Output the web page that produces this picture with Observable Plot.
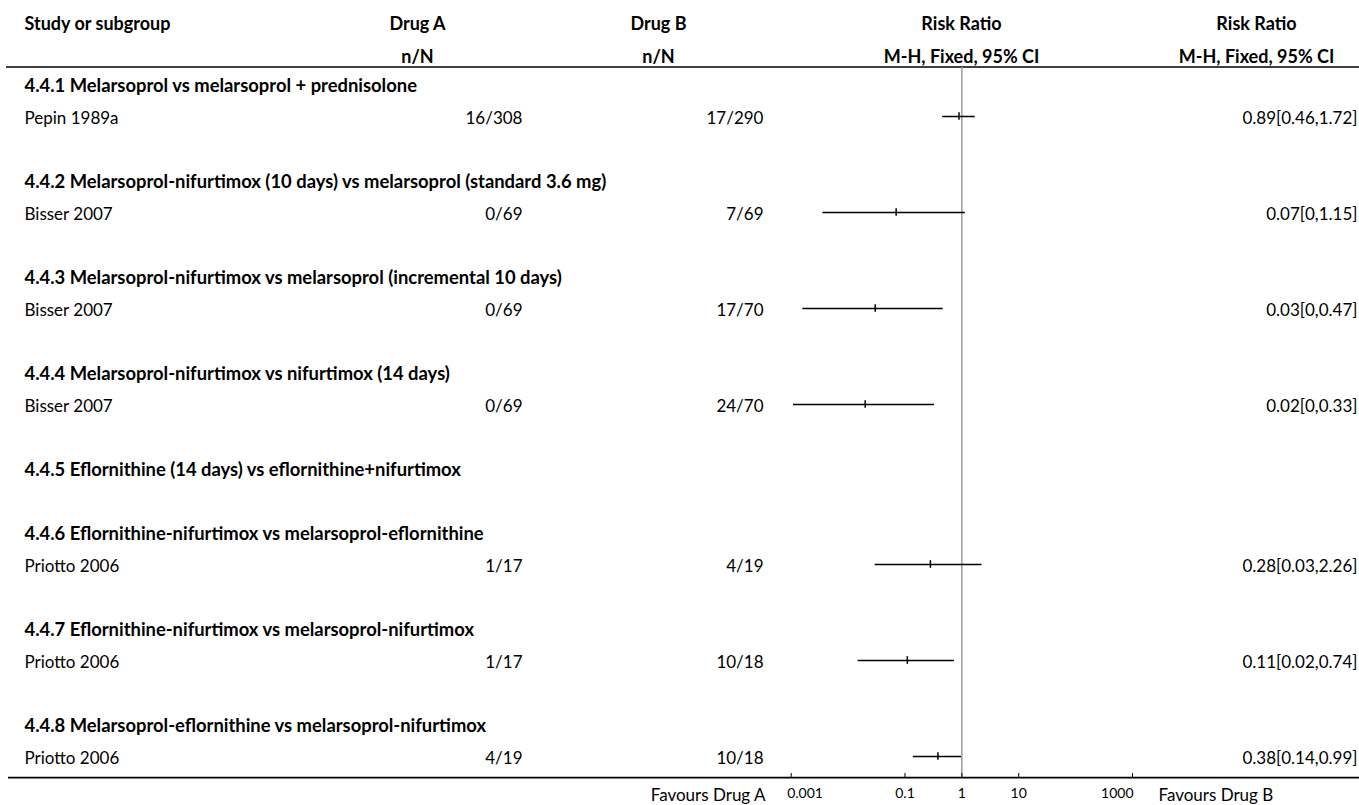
<!DOCTYPE html>
<html>
<head>
<meta charset="utf-8">
<script src="https://cdn.jsdelivr.net/npm/d3@7"></script>
<script src="https://cdn.jsdelivr.net/npm/@observablehq/plot@0.6"></script>
<style>
  html, body { margin: 0; padding: 0; background: #fff; }
  #chart svg { display: block; }
</style>
</head>
<body>
<div id="chart"></div>
<script>
// ---- data ----
const subgroups = [
  "4.4.1 Melarsoprol vs melarsoprol + prednisolone",
  "4.4.2 Melarsoprol-nifurtimox (10 days) vs melarsoprol (standard 3.6 mg)",
  "4.4.3 Melarsoprol-nifurtimox vs melarsoprol (incremental 10 days)",
  "4.4.4 Melarsoprol-nifurtimox vs nifurtimox (14 days)",
  "4.4.5 Eflornithine (14 days) vs eflornithine+nifurtimox",
  "4.4.6 Eflornithine-nifurtimox vs melarsoprol-eflornithine",
  "4.4.7 Eflornithine-nifurtimox vs melarsoprol-nifurtimox",
  "4.4.8 Melarsoprol-eflornithine vs melarsoprol-nifurtimox"
];
const studyNames = ["Pepin 1989a", "Bisser 2007", "Bisser 2007", "Bisser 2007", null, "Priotto 2006", "Priotto 2006", "Priotto 2006"];
const drugA = ["16/308", "0/69", "0/69", "0/69", null, "1/17", "1/17", "4/19"];
const drugB = ["17/290", "7/69", "17/70", "24/70", null, "4/19", "10/18", "10/18"];
const riskRatio = [0.89, 0.07, 0.03, 0.02, null, 0.28, 0.11, 0.38];
const ciLower = [0.46, 0.0036, 0.0016, 0.0011, null, 0.03, 0.015, 0.14];
const ciUpper = [1.72, 1.15, 0.47, 0.33, null, 2.26, 0.74, 0.99];
const ciText = ["0.89[0.46,1.72]", "0.07[0,1.15]", "0.03[0,0.47]", "0.02[0,0.33]", null, "0.28[0.03,2.26]", "0.11[0.02,0.74]", "0.38[0.14,0.99]"];

const headerTop = ["Study or subgroup", "Drug A", "Drug B", "Risk Ratio", "Risk Ratio"];
const headerSub = ["", "n/N", "n/N", "M-H, Fixed, 95% CI", "M-H, Fixed, 95% CI"];
const tickValues = [0.001, 0.1, 1, 10, 1000];
const tickLabels = ["0.001", "0.1", "1", "10", "1000"];
const favours = ["Favours Drug A", "Favours Drug B"];

// ---- build rows ----
const headingRows = [];
const studyRows = [];
let r = 0;
subgroups.forEach((g, i) => {
  headingRows.push({row: r, label: g});
  r++;
  if (studyNames[i] !== null) {
    studyRows.push({row: r, name: studyNames[i], a: drugA[i], b: drugB[i],
      rr: riskRatio[i], lo: ciLower[i], hi: ciUpper[i], ci: ciText[i]});
    r++;
  }
  r++;
});
const lastRow = studyRows[studyRows.length - 1].row;

const W = 1359, H = 805;
const FONT = "Lato, 'Open Sans', sans-serif";

function hdr(text, dx, dy, anchor) {
  return Plot.text([text], {text: d => d, frameAnchor: "top-left", lineAnchor: "middle", dx, dy,
    textAnchor: anchor, fontWeight: "bold", fontSize: 18, fill: "#000"});
}

const ticks = tickValues.map((v, i) => ({v, label: tickLabels[i]}));

const chart = Plot.plot({
  width: W,
  height: H,
  margin: 0,
  x: {type: "log", domain: [0.001, 1000], range: [790.7, 1132], axis: null},
  y: {type: "linear", domain: [0, lastRow], range: [84, 756], axis: null},
  style: {fontFamily: FONT, fontSize: "17px", color: "#000", background: "#fff", overflow: "visible"},
  marks: [
    // header texts
    hdr(headerTop[0], 24, 24, "start"),
    hdr(headerTop[1], 417, 24, "middle"),
    hdr(headerSub[1], 417, 56.5, "middle"),
    hdr(headerTop[2], 658, 24, "middle"),
    hdr(headerSub[2], 658, 56.5, "middle"),
    hdr(headerTop[3], 961, 24, "middle"),
    hdr(headerSub[3], 961, 56.5, "middle"),
    hdr(headerTop[4], 1256, 24, "middle"),
    hdr(headerSub[4], 1256, 56.5, "middle"),
    // header and bottom lines
    Plot.ruleY([-0.545], {insetLeft: 6, stroke: "#000", strokeWidth: 1.6}),
    Plot.ruleY([lastRow + 0.66], {insetLeft: 8, stroke: "#000", strokeWidth: 1.6}),
    // line of no effect
    Plot.ruleX([1], {insetTop: 67, insetBottom: 28, stroke: "#9a9a9a", strokeWidth: 1.5}),
    // axis ticks
    Plot.ruleX(tickValues, {insetTop: 773, insetBottom: 27, stroke: "#000", strokeWidth: 1}),
    // CIs
    Plot.ruleY(studyRows, {y: "row", x1: "lo", x2: "hi", stroke: "#000", strokeWidth: 1.5}),
    Plot.ruleX(studyRows, {x: "rr", y1: d => d.row - 0.12, y2: d => d.row + 0.12, stroke: "#000", strokeWidth: 1.5}),
    // row texts
    Plot.text(headingRows, {y: "row", text: "label", frameAnchor: "left", dx: 24, dy: 2, textAnchor: "start", fontWeight: "bold", fontSize: 18.4, fill: "#000"}),
    Plot.text(studyRows, {y: "row", text: "name", frameAnchor: "left", dx: 24, dy: 2, textAnchor: "start", fill: "#000"}),
    Plot.text(studyRows, {y: "row", text: "a", frameAnchor: "left", dx: 522, dy: 2, textAnchor: "end", fill: "#000"}),
    Plot.text(studyRows, {y: "row", text: "b", frameAnchor: "left", dx: 763, dy: 2, textAnchor: "end", fill: "#000"}),
    Plot.text(studyRows, {y: "row", text: "ci", frameAnchor: "left", dx: 1357, dy: 2, textAnchor: "end", fill: "#000"}),
    // tick labels
    Plot.text(ticks.slice(0, 1), {x: "v", text: "label", frameAnchor: "bottom", lineAnchor: "middle", dy: -11.5, dx: -4, textAnchor: "start", fontSize: 14, fill: "#000"}),
    Plot.text(ticks.slice(1, -1), {x: "v", text: "label", frameAnchor: "bottom", lineAnchor: "middle", dy: -11.5, textAnchor: "middle", fontSize: 14, fill: "#000"}),
    Plot.text(ticks.slice(-1), {x: "v", text: "label", frameAnchor: "bottom", lineAnchor: "middle", dy: -11.5, dx: 1, textAnchor: "end", fontSize: 14, fill: "#000"}),
    // favours labels
    Plot.text([favours[0]], {text: d => d, frameAnchor: "bottom-left", lineAnchor: "middle", dx: 765, dy: -10, textAnchor: "end", fontSize: 17, fill: "#000"}),
    Plot.text([favours[1]], {text: d => d, frameAnchor: "bottom-left", lineAnchor: "middle", dx: 1158, dy: -10, textAnchor: "start", fontSize: 17, fill: "#000"})
  ]
});
document.getElementById("chart").appendChild(chart);
</script>
</body>
</html>
